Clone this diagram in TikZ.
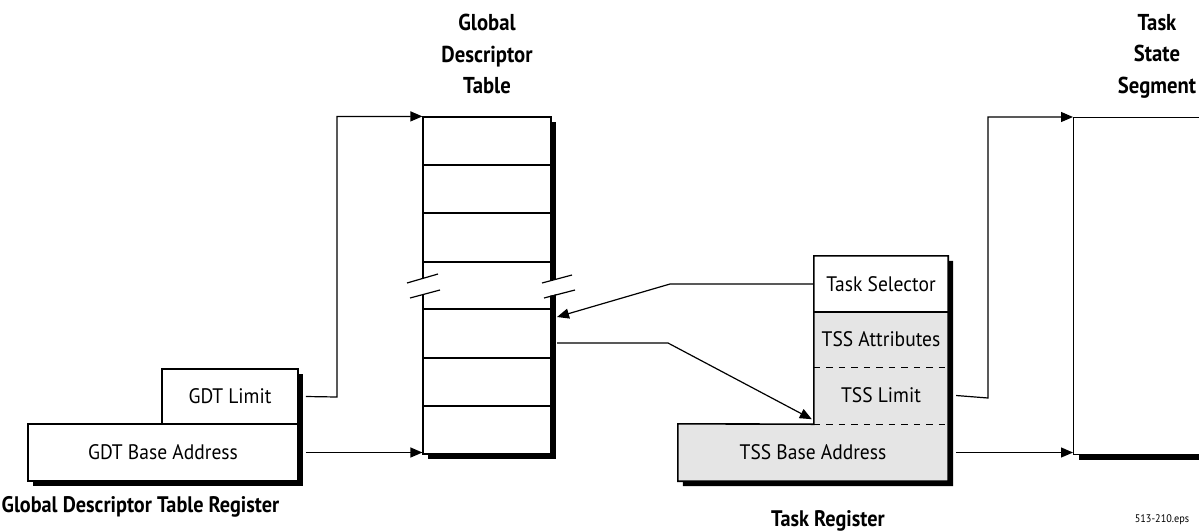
\documentclass[tikz,border=0pt]{standalone}
\usepackage{fontspec}
\setmainfont{PT Sans}
\newfontfamily\lblfont{PT Sans}[FakeStretch=0.93]
\newfontfamily\ttlfont{PT Sans}[FakeStretch=0.9]
\usetikzlibrary{arrows.meta,shadows,backgrounds}
\begin{document}
\begin{tikzpicture}[x=1pt,y=-1pt,
  lbl/.style={font=\lblfont\fontsize{21}{24}\selectfont, inner sep=0pt},
  ttl/.style={font=\ttlfont\bfseries\fontsize{23}{31.5}\selectfont, align=center, inner sep=0pt},
  reg/.style={font=\ttlfont\bfseries\fontsize{22.5}{26}\selectfont, inner sep=0pt, anchor=base},
  shd/.style={general shadow={fill=black, shadow xshift=5pt, shadow yshift=-5pt}},
  sbox/.style={draw, line width=1.6pt, fill=white, lbl, shd},
  tbl/.style={draw, line width=1.2pt, fill=white, inner sep=0pt, shd},
  conn/.style={line width=1.2pt},
  arr/.style={conn, -{Triangle[length=12pt,width=10pt]}},
  trline/.style={line width=1.6pt},
  dsh/.style={line width=1pt, dash pattern=on 6.5pt off 6pt},
]
\useasboundingbox (0,0) rectangle (1199,531);
\clip (0,0) rectangle (1199,531);

% titles
\node[ttl, anchor=north] (gdttitle) at (487,14) {Global\\Descriptor\\Table};
\node[ttl, anchor=north] (tsstitle) at (1157,14) {Task\\State\\Segment};

% GDT register
\node[sbox, minimum width=136pt, minimum height=55pt] (gdtl) at (230,396.5) {GDT Limit};
\node[sbox, minimum width=270pt, minimum height=57pt] (gdtb) at (163,452.5) {GDT Base Address};
\node[reg] (gdtrlbl) at (140.5,512) {Global Descriptor Table Register};

% GDT table
\node[tbl, minimum width=128pt, minimum height=337pt] (gdt) at (487,285.5) {};
\foreach \yy in {165,213,262,309,358,406}
  \draw[conn] (423,\yy) -- (551,\yy);
\fill[white] (408,283) -- (438,275) -- (440,290) -- (410,297) -- cycle;
\fill[white] (542,283) -- (572,275) -- (575,290) -- (544,297) -- cycle;
\draw[conn] (407,283) -- (438,274);
\draw[conn] (410,298) -- (440,290);
\draw[conn] (542,283) -- (572,275);
\draw[conn] (544,298) -- (575,290);

% Task register
\node[lbl, minimum width=134pt, minimum height=56pt] (tsel) at (881,284) {Task Selector};
\node[lbl, minimum width=134pt, minimum height=55pt] (tattr) at (881,339.5) {TSS Attributes};
\node[lbl, minimum width=134pt, minimum height=57pt] (tlim) at (881,395.5) {TSS Limit};
\node[lbl, minimum width=270pt, minimum height=57pt] (tbase) at (813,452.5) {TSS Base Address};
\begin{scope}[on background layer]
\path[fill=black!10, shd] (tsel.north west) -- (tsel.north east) -- (tbase.south east)
  -- (tbase.south west) -- (tbase.north west) -- (tlim.south west) -- cycle;
\fill[white] (tsel.north west) rectangle (tsel.south east);
\draw[trline] (tsel.north west) -- (tsel.north east) -- (tbase.south east)
  -- (tbase.south west) -- (tbase.north west) -- (tlim.south west) -- cycle;
\draw[trline] (tsel.south west) -- (tsel.south east);
\draw[dsh] (tattr.south west) -- (tattr.south east);
\draw[dsh] (tlim.south west) -- (tlim.south east);
\end{scope}
\node[reg] (trlbl) at (828,526) {Task Register};

% TSS
\node[tbl, minimum width=160pt, minimum height=337pt, anchor=north west] (tss) at (1073,117) {};

\node[font=\lblfont\fontsize{11}{13}\selectfont, inner sep=0pt] (eps) at (1162,520) {513-210.eps};

% connectors
\coordinate (c1) at (337,397);
\draw[arr] ([xshift=7pt]gdtl.east) -- (c1) |- (gdt.north west);
\draw[arr] ([xshift=7pt]gdtb.east) -- (gdtb.east -| gdt.west);
\coordinate (k1) at (670,284);
\coordinate (tip1) at (557,317);
\draw[arr] (tsel.west) -- (k1) -- (tip1);
\coordinate (s2) at (557,343);
\coordinate (k2) at (668,343);
\draw[arr] (s2) -- (k2) -- ([xshift=-2pt,yshift=5pt]tlim.south west);
\coordinate (c2) at (988,398);
\draw[arr] ([xshift=8pt]tlim.east) -- (c2) |- (tss.north west);
\draw[arr] ([xshift=8pt]tbase.east) -- (tbase.east -| tss.west);
\end{tikzpicture}
\end{document}
